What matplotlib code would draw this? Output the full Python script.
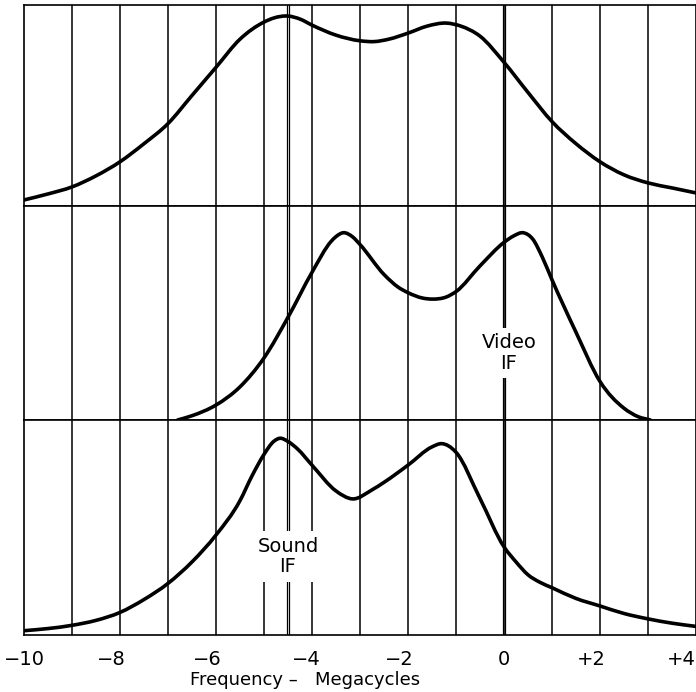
import matplotlib
matplotlib.use('Agg')
import matplotlib.pyplot as plt
from matplotlib.path import Path
from matplotlib.patches import PathPatch
from matplotlib.transforms import ScaledTranslation

plt.rcParams['font.family'] = ['DejaVu Sans']

# frequency (Mc) vs relative response, one curve per panel (0..1 of panel height)
freq_top = [-10, -9.5, -9, -8.5, -8, -7.5, -7, -6.5, -6, -5.5, -5, -4.8, -4.5, -4.25, -4, -3.5, -3,
            -2.7, -2.4, -2, -1.6, -1.2, -0.9, -0.5, 0, 0.5, 1, 1.5, 2, 2.5, 3, 3.5, 4]
resp_top = [0.03, 0.06, 0.095, 0.15, 0.22, 0.31, 0.41, 0.55, 0.69, 0.83, 0.915, 0.935, 0.945, 0.93,
            0.90, 0.85, 0.822, 0.818, 0.83, 0.86, 0.895, 0.91, 0.895, 0.845, 0.715, 0.565, 0.42, 0.31,
            0.22, 0.155, 0.115, 0.09, 0.065]

freq_mid = [-6.8, -6.5, -6, -5.5, -5, -4.5, -4, -3.6, -3.5, -3.35, -3.15, -3, -2.5, -2.2, -2, -1.7,
            -1.5, -1.2, -1, -0.5, 0, 0.2, 0.4, 0.6, 0.8, 1, 1.5, 2, 2.5, 2.8, 3.05]
resp_mid = [0, 0.02, 0.07, 0.155, 0.29, 0.48, 0.69, 0.835, 0.857, 0.875, 0.855, 0.82, 0.68, 0.62,
            0.595, 0.57, 0.565, 0.575, 0.60, 0.72, 0.83, 0.86, 0.875, 0.845, 0.76, 0.655, 0.41, 0.18,
            0.055, 0.015, 0]

freq_bot = [-10, -9.5, -9, -8.5, -8, -7.5, -7, -6.5, -6, -5.5, -5.25, -5, -4.8, -4.67, -4.5, -4.3,
            -4, -3.5, -3.15, -2.75, -2.5, -2, -1.5, -1.3, -1, -0.5, 0, 0.25, 0.5, 0.75, 1, 1.5, 2,
            2.5, 3, 3.5, 4]
resp_bot = [0.02, 0.03, 0.045, 0.068, 0.105, 0.165, 0.24, 0.34, 0.465, 0.625, 0.74, 0.84, 0.90, 0.915,
            0.90, 0.865, 0.79, 0.67, 0.633, 0.675, 0.71, 0.79, 0.875, 0.89, 0.85, 0.635, 0.41, 0.34,
            0.28, 0.245, 0.22, 0.17, 0.135, 0.10, 0.075, 0.055, 0.04]

tick_vals = [-10, -8, -6, -4, -2, 0, 2, 4]
tick_text = ['\u221210', '\u22128', '\u22126', '\u22124', '\u22122', '0', '+2', '+4']
tick_nudge = [0, -9, -9, -6, -9, 0, -9, 0]   # px, labels sit a little left of their lines


def smooth_path(xs, ys):
    # bezier path through the read points (hermite slopes from neighbours)
    n = len(xs)
    m = []
    for i in range(n):
        if i == 0:
            m.append((ys[1] - ys[0]) / (xs[1] - xs[0]))
        elif i == n - 1:
            m.append((ys[-1] - ys[-2]) / (xs[-1] - xs[-2]))
        else:
            h0 = xs[i] - xs[i - 1]
            h1 = xs[i + 1] - xs[i]
            d0 = (ys[i] - ys[i - 1]) / h0
            d1 = (ys[i + 1] - ys[i]) / h1
            m.append((d0 * h1 + d1 * h0) / (h0 + h1))
    verts = [(xs[0], ys[0])]
    codes = [Path.MOVETO]
    for i in range(n - 1):
        h = xs[i + 1] - xs[i]
        verts += [(xs[i] + h / 3, ys[i] + m[i] * h / 3),
                  (xs[i + 1] - h / 3, ys[i + 1] - m[i + 1] * h / 3),
                  (xs[i + 1], ys[i + 1])]
        codes += [Path.CURVE4] * 3
    return Path(verts, codes)


W, H = 696, 692
fig = plt.figure(figsize=(W / 100, H / 100), dpi=100)

# panel edges in pixels from the top of the picture
panels = [(5, 206), (206, 420), (420, 635)]
curves = [(freq_top, resp_top), (freq_mid, resp_mid), (freq_bot, resp_bot)]
axes = []
for (top, bot), (fx, fy) in zip(panels, curves):
    ax = fig.add_axes([24 / W, 1 - bot / H, 672 / W, (bot - top) / H])
    ax.set_xlim(-10, 4)
    ax.set_ylim(0, 1)
    ax.set_yticks([])
    ax.set_xticks([])
    for s in ax.spines.values():
        s.set_linewidth(1.2)
    for v in range(-9, 4):
        ax.axvline(v, color='black', lw=1.1, zorder=1)
    # double lines at the carriers
    for v in (-4.52, -4.48, -0.02, 0.02):
        ax.axvline(v, color='black', lw=0.9, zorder=1)
    ax.add_patch(PathPatch(smooth_path(fx, fy), facecolor='none', edgecolor='black',
                           lw=2.6, capstyle='round', zorder=4))
    axes.append(ax)

ax_top, ax_mid, ax_bot = axes

ax_bot.set_xticks(tick_vals)
ax_bot.set_xticklabels(tick_text)
ax_bot.tick_params(axis='x', length=0, pad=11, labelsize=14)
labels = ax_bot.get_xticklabels()
for lab, dx in zip(labels, tick_nudge):
    lab.set_transform(lab.get_transform() + ScaledTranslation(dx / 100, 0, fig.dpi_scale_trans))
labels[-1].set_horizontalalignment('right')

box = dict(facecolor='white', edgecolor='none', pad=4)
ax_bot.text(-4.5, 0.365, 'Sound\nIF', ha='center', va='center', fontsize=14,
            linespacing=1.1, bbox=box, zorder=3)
ax_mid.text(0.1, 0.313, 'Video\nIF', ha='center', va='center', fontsize=14,
            linespacing=1.1, bbox=box, zorder=3)

fig.text(305 / W, 1 - 680 / H, 'Frequency \u2013   Megacycles', ha='center', va='center',
         fontsize=13)

fig.savefig('out.png', dpi=100)
